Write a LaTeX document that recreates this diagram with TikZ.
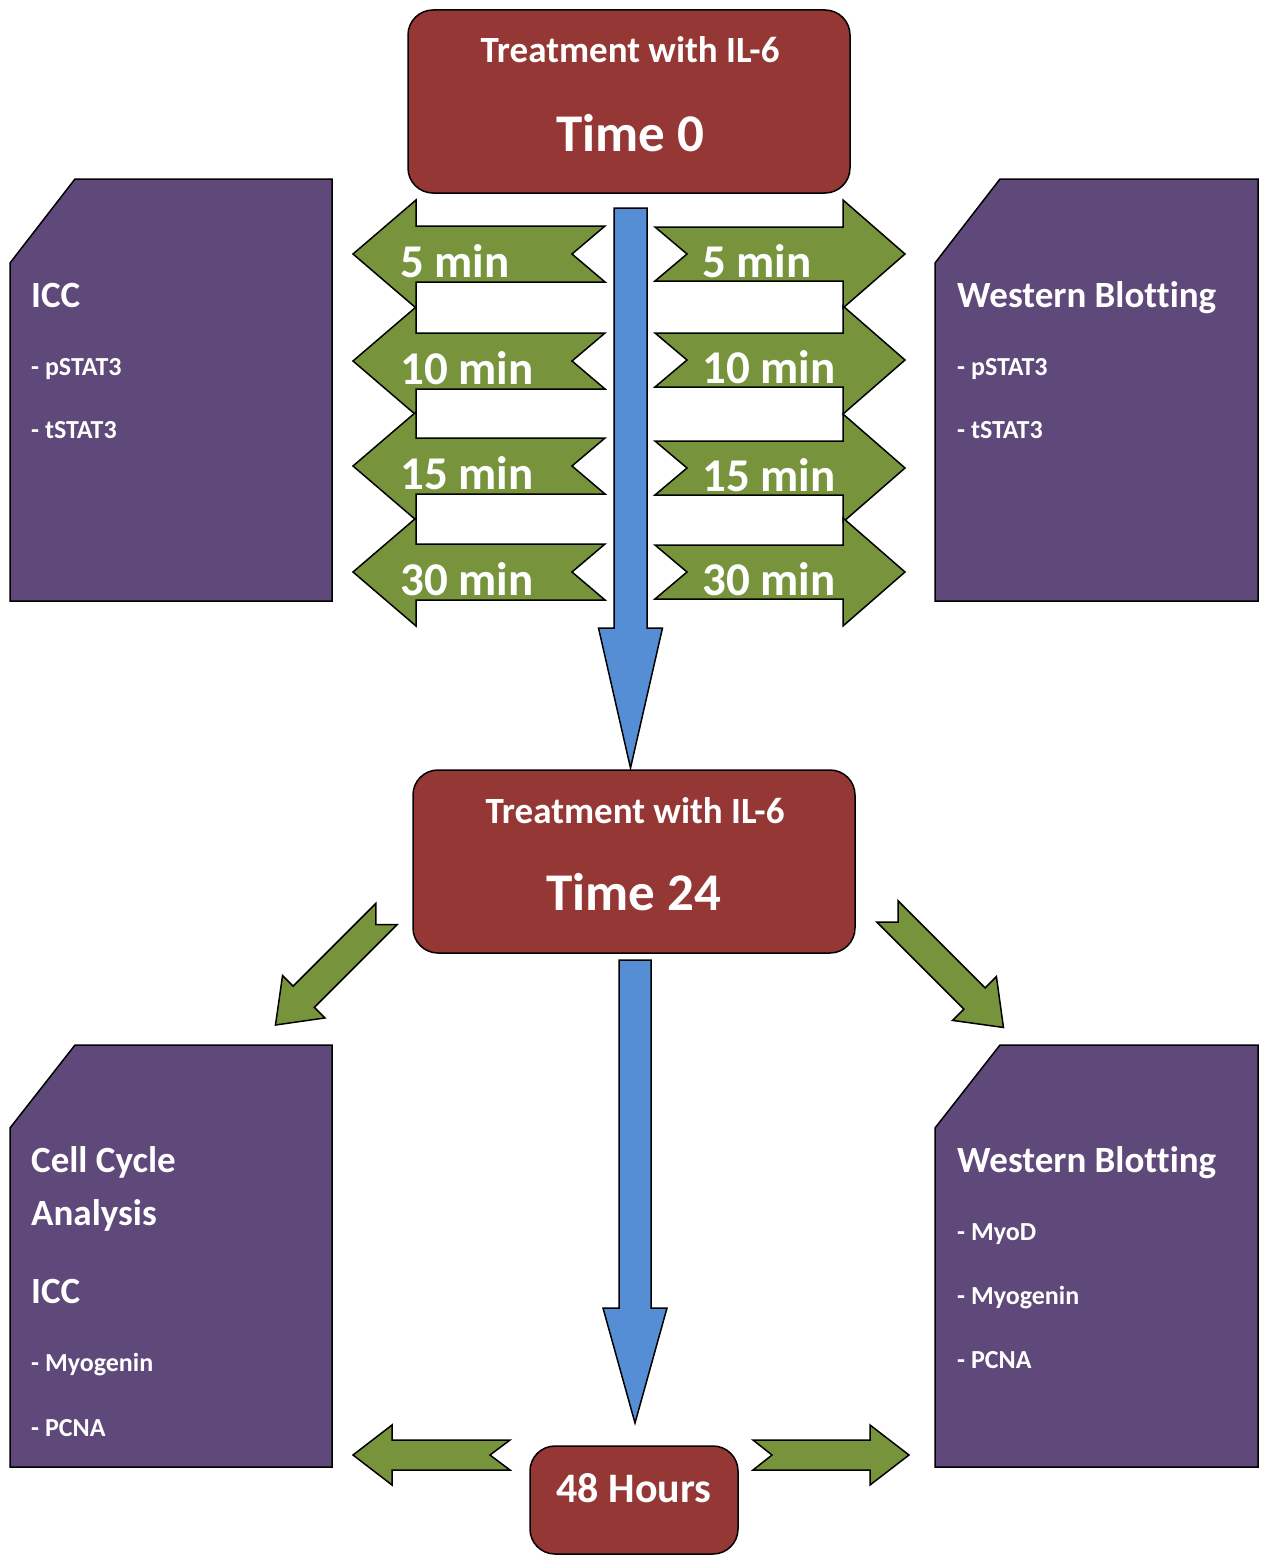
\documentclass[tikz,border=0pt]{standalone}
\usepackage{fontspec}
\setmainfont{Carlito}[Ligatures=NoCommon]
\usetikzlibrary{positioning}

\definecolor{boxred}{HTML}{953735}
\definecolor{docpurple}{HTML}{5F497A}
\definecolor{arrowgreen}{HTML}{77933C}
\definecolor{flowblue}{HTML}{558ED5}

\tikzset{
  % block arrow: length, shaft half width, head half width, head length, notch depth
  pics/blockarrow/.style n args={5}{code={
    \path[pic actions] (0,#2) -- ({#1-#4},#2) -- ({#1-#4},#3) -- (#1,0)
      -- ({#1-#4},-#3) -- ({#1-#4},-#2) -- (0,-#2) -- (#5,0) -- cycle;
  }},
  greenarrow/.style={draw=black, fill=arrowgreen, line width=1.5pt},
  bluearrow/.style={draw=black, fill=flowblue, line width=1.5pt},
  redbox/.style={draw=black, fill=boxred, rounded corners=25pt, line width=1.5pt, inner sep=0pt},
  docbox/.style={draw=black, fill=docpurple, line width=1.5pt},
  whitetxt/.style={text=white, inner sep=0pt},
  headtxt/.style={whitetxt, font=\bfseries\fontsize{37}{44}\selectfont},
  timetxt/.style={whitetxt, font=\bfseries\fontsize{53}{60}\selectfont},
  hourtxt/.style={whitetxt, font=\bfseries\fontsize{42}{48}\selectfont},
  minlabel/.style={whitetxt, font=\bfseries\fontsize{47}{54}\selectfont},
  itemtxt/.style={whitetxt, font=\bfseries\fontsize{26}{30}\selectfont},
}

\begin{document}
\begin{tikzpicture}[x=1pt, y=-1pt]
      \useasboundingbox (0,0) rectangle (1266,1555);
      % time 0 box
      \node[redbox, minimum width=442pt, minimum height=183pt] (t0) at (629,101.5) {};
      \node[headtxt, anchor=base] (t0head) at (630,63) {Treatment with IL-6};
      \node[timetxt, anchor=base] (t0time) at (630,151) {Time 0};
      % document boxes, first round
      \draw[docbox] (75,179) -- (332,179) -- (332,601) -- (10,601) -- (10,263) -- cycle;
      \draw[docbox] (1000,179) -- (1258,179) -- (1258,601) -- (935,601) -- (935,263) -- cycle;
      \node[headtxt, anchor=base west] (icc) at (31,307) {ICC};
      \node[itemtxt, anchor=base west] (iccp) at (31,375) {- pSTAT3};
      \node[itemtxt, anchor=base west] (icct) at (31,438) {- tSTAT3};
      \node[headtxt, anchor=base west] (wb) at (957,307) {Western Blotting};
      \node[itemtxt, anchor=base west] (wbp) at (957,375) {- pSTAT3};
      \node[itemtxt, anchor=base west] (wbt) at (957,438) {- tSTAT3};
      % time point arrows
      \foreach \cl/\cr/\lbl [count=\i] in {254/254/5, 361/360/10, 466/468/15, 572/572/30} {
        \pic[greenarrow, rotate=180] at (605,\cl) {blockarrow={252}{28}{54}{63}{33}};
        \pic[greenarrow] at (655,\cr) {blockarrow={250}{27}{54}{62}{32}};
        \node[minlabel, anchor=base west] (ml\i) at (400,\cl+23) {\lbl\ min};
        \node[minlabel, anchor=base west] (mr\i) at (702,\cr+23) {\lbl\ min};
      }
      % time line down to 24 h
      \pic[bluearrow, rotate=-90] at (630.5,208) {blockarrow={560}{16.5}{32}{140}{0}};
      % time 24 box
      \node[redbox, minimum width=442pt, minimum height=183pt] (t24) at (634,861.5) {};
      \node[headtxt, anchor=base] (t24head) at (635,823) {Treatment with IL-6};
      \node[timetxt, anchor=base] (t24time) at (634,910) {Time 24};
      % diagonal arrows
      \pic[greenarrow, rotate=225] at (386.5,914) {blockarrow={157}{15}{30}{40}{15}};
      \pic[greenarrow, rotate=-45] at (887.5,911.5) {blockarrow={164}{15}{31}{41}{15}};
      % document boxes, second round
      \draw[docbox] (75,1045) -- (332,1045) -- (332,1467) -- (10,1467) -- (10,1128) -- cycle;
      \draw[docbox] (1000,1045) -- (1258,1045) -- (1258,1467) -- (935,1467) -- (935,1128) -- cycle;
      \node[headtxt, anchor=base west] (cc1) at (31,1172) {Cell Cycle};
      \node[headtxt, anchor=base west] (cc2) at (31,1225) {Analysis};
      \node[headtxt, anchor=base west] (icc2) at (31,1303) {ICC};
      \node[itemtxt, anchor=base west] (iccm) at (31,1371) {- Myogenin};
      \node[itemtxt, anchor=base west] (iccn) at (31,1436) {- PCNA};
      \node[headtxt, anchor=base west] (wb2) at (957,1172) {Western Blotting};
      \node[itemtxt, anchor=base west] (wbd) at (957,1240) {- MyoD};
      \node[itemtxt, anchor=base west] (wbm) at (957,1304) {- Myogenin};
      \node[itemtxt, anchor=base west] (wbn) at (957,1368) {- PCNA};
      % time line down to 48 h
      \pic[bluearrow, rotate=-90] at (635,960) {blockarrow={463}{16}{32}{115}{0}};
      % 48 hours box
      \node[redbox, minimum width=208pt, minimum height=108pt] (h48) at (634,1500) {};
      \node[hourtxt, anchor=base] (h48txt) at (634,1502) {48 Hours};
      % side arrows
      \pic[greenarrow, rotate=180] at (510,1455) {blockarrow={157}{15}{30}{39}{20}};
      \pic[greenarrow] at (753,1455) {blockarrow={156}{15}{30}{39}{19}};
    \end{tikzpicture}
\end{document}
